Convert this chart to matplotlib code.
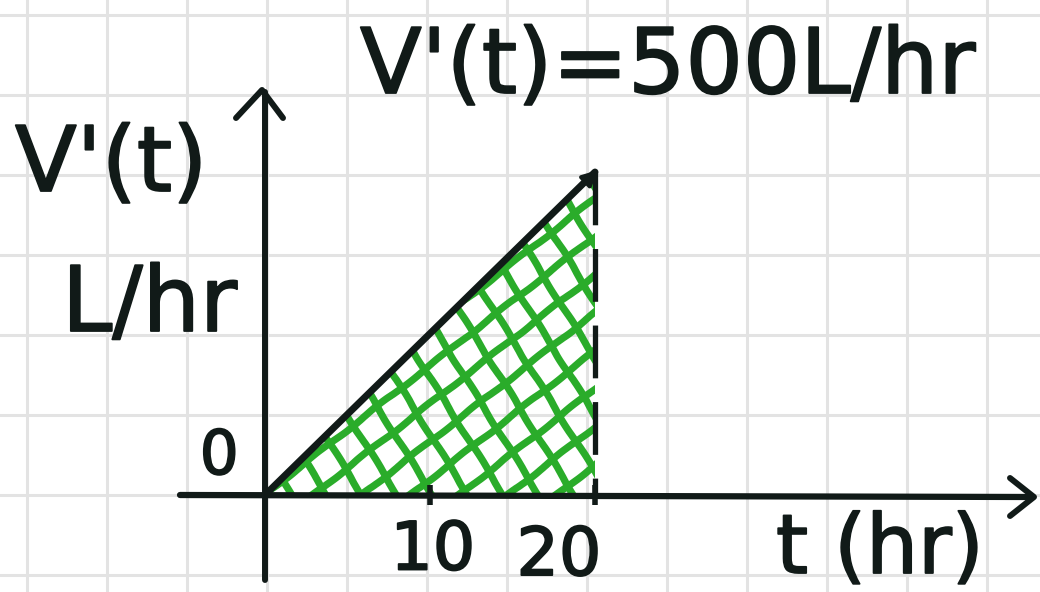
import numpy as np
import matplotlib
matplotlib.use("Agg")
import matplotlib.pyplot as plt
import matplotlib.patheffects as pe
from matplotlib.patches import Polygon

# --- sketch data ---
hours = [0, 20]          # t (hr)
rate = [0, 500]          # V'(t) in L/hr
tick_hours = [10, 20]
tick_labels = ["10", "20"]
title = "V'(t)=500L/hr"
ylabel_top = "V'(t)"
ylabel_bottom = "L/hr"
xlabel = "t (hr)"

W, H = 1040, 592
X0, Y0 = 265, 495            # origin in pixels
PX_HR = 16.5                 # pixels per hour
PX_RATE = 323 / 500          # pixels per L/hr

INK = "#111a18"
GREEN = "#2aac2a"
GRID = "#e3e3e3"

fig = plt.figure(figsize=(W / 100, H / 100), dpi=100)

# squared paper, in pixel coords (y down)
bg = fig.add_axes([0, 0, 1, 1])
bg.set_xlim(0, W)
bg.set_ylim(H, 0)
bg.axis("off")
for gx in np.arange(27, W, 80):
    bg.axvline(gx, color=GRID, lw=2.2, zorder=0)
for gy in np.arange(15, H, 80):
    bg.axhline(gy, color=GRID, lw=2.2, zorder=0)

# data axes laid over the paper
ax = fig.add_axes([0, 0, 1, 1])
ax.patch.set_alpha(0)
ax.axis("off")
ax.set_xlim(-X0 / PX_HR, (W - X0) / PX_HR)
ax.set_ylim(-(H - Y0) / PX_RATE, Y0 / PX_RATE)

# hand drawn axes with open arrow heads
bg.plot([X0, X0], [580, 92], color=INK, lw=4.3, solid_capstyle="round", zorder=3)
bg.plot([236, 262, 283], [118, 90, 118], color=INK, lw=4.3,
        solid_capstyle="round", solid_joinstyle="round", zorder=3)
bg.plot([180, 1030], [Y0, Y0 + 2], color=INK, lw=4.5, solid_capstyle="round", zorder=3)
bg.plot([1010, 1034, 1010], [478, 497, 516], color=INK, lw=4.3,
        solid_capstyle="round", solid_joinstyle="round", zorder=3)

# shaded region under the rate line, cross hatched
tri = Polygon([(hours[0], rate[0]), (hours[1], rate[1]), (hours[1], 0)],
              closed=True, facecolor="none", edgecolor="none",
              transform=ax.transData)
ax.add_patch(tri)

def hatch_family(angle_deg, spacing):
    th = np.radians(angle_deg)
    d = np.array([np.cos(th), -np.sin(th)])
    n = np.array([np.sin(th), np.cos(th)])
    centre = np.array([430.0, 340.0])
    for c in np.arange(-400, 401, spacing):
        p = centre + c * n
        a, b = p - 500 * d, p + 500 * d
        ln, = bg.plot([a[0], b[0]], [a[1], b[1]], color=GREEN, lw=5.2,
                      solid_capstyle="round", zorder=2)
        ln.set_clip_path(tri)
        ln.set_sketch_params(scale=0.8, length=90, randomness=2)

hatch_family(38, 30)
hatch_family(-58, 30)

# rate line and the dashed drop at t = 20
ax.plot(hours, rate, color=INK, lw=5, solid_capstyle="round", zorder=4)
ax.annotate("", xy=(hours[1] + 0.3, rate[1] + 6), xytext=(hours[1] - 1.2, rate[1] - 30),
            arrowprops=dict(arrowstyle="-|>,head_length=0.9,head_width=0.45",
                            color=INK, lw=3), zorder=4)
ax.plot([hours[1], hours[1]], [rate[1], 0], color=INK, lw=3.8,
        linestyle=(0, (10, 4.5)), zorder=4)

# ticks on the t axis
ax.plot(tick_hours, [0] * len(tick_hours), linestyle="none", marker="|",
        markersize=14, mew=4, color=INK, zorder=4)

bold = [pe.withStroke(linewidth=1.3, foreground=INK)]
offsets = [(2, -40), (-26, -44)]
for t, lab, (dx, dy) in zip(tick_hours, tick_labels, offsets):
    ax.annotate(lab, xy=(t, 0), xytext=(dx, dy), textcoords="offset points",
                ha="center", va="center", fontsize=48, color=INK, path_effects=bold)

ax.annotate("0", xy=(0, 0), xytext=(-33, 27), textcoords="offset points",
            ha="center", va="center", fontsize=44, color=INK, path_effects=bold)

txt = dict(color=INK, fontsize=65, family="DejaVu Sans", path_effects=bold)
bg.text(360, 68, title, ha="left", va="center", **txt)
bg.text(15, 166, ylabel_top, ha="left", va="center", **txt)
bg.text(62, 306, ylabel_bottom, ha="left", va="center", **txt)
bg.text(776, 573, xlabel, ha="left", va="baseline",
        **{**txt, "fontsize": 59})

fig.savefig("out.png", dpi=100, facecolor="white")
